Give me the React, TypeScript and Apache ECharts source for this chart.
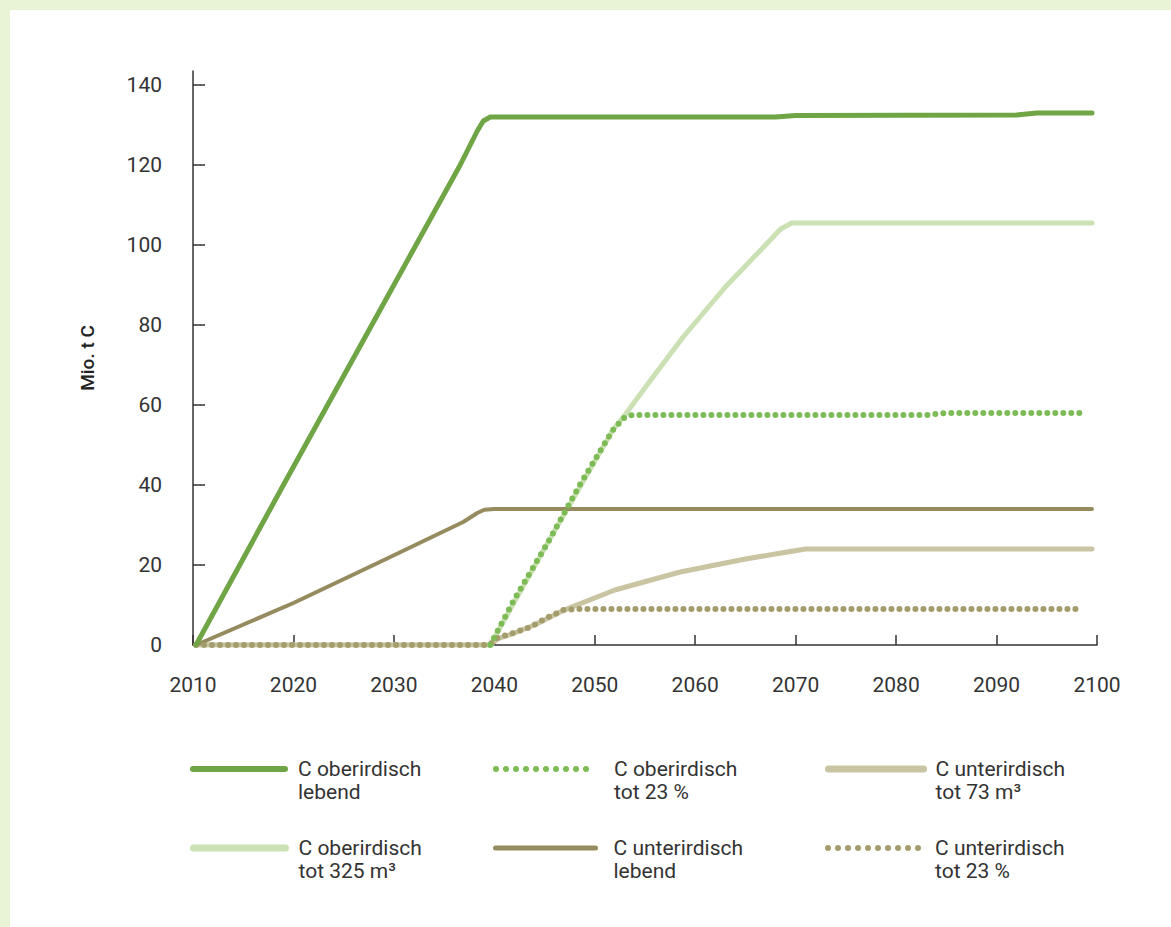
import { useEffect, useRef } from "react";
import * as echarts from "echarts";

const xTicks = [2010, 2020, 2030, 2040, 2050, 2060, 2070, 2080, 2090, 2100];
const yTicks = [0, 20, 40, 60, 80, 100, 120, 140];

const NAME_OL = "C oberirdisch\nlebend";
const NAME_OT23 = "C oberirdisch\ntot 23 %";
const NAME_UT73 = "C unterirdisch\ntot 73 m³";
const NAME_OT325 = "C oberirdisch\ntot 325 m³";
const NAME_UL = "C unterirdisch\nlebend";
const NAME_UT23 = "C unterirdisch\ntot 23 %";

// C oberirdisch lebend
const olYears = [2010.3, 2019, 2027.8, 2036.6, 2038.3, 2038.9, 2039.6, 2068, 2070, 2092, 2094, 2099.5];
const olValues = [0, 40, 80, 120, 128.5, 131, 132, 132, 132.4, 132.5, 133, 133];

// C oberirdisch tot 325 m³
const ot325Years = [2010.3, 2039.6, 2045.3, 2051.8, 2053, 2055.5, 2058.8, 2063, 2067, 2068.5, 2069.6, 2099.5];
const ot325Values = [0, 0, 25.5, 53.75, 57.5, 66, 77, 89.5, 100, 104, 105.5, 105.5];

// C oberirdisch tot 23 %
const ot23Years = [2039.6, 2041.9, 2045.3, 2048.5, 2051.8, 2053, 2053.8, 2083, 2085, 2098.5];
const ot23Values = [0, 11, 25.5, 40, 53.75, 57, 57.5, 57.5, 58, 58];

// C unterirdisch lebend
const ulYears = [2010.3, 2020, 2028.6, 2036.9, 2038.3, 2039, 2040, 2099.5];
const ulValues = [0, 10.5, 20.75, 30.75, 33, 33.8, 34, 34];

// C unterirdisch tot 73 m³
const ut73Years = [2010.3, 2039.6, 2040.3, 2042, 2044, 2047, 2052, 2058.5, 2065, 2069, 2071, 2099.5];
const ut73Values = [0, 0, 1.5, 3, 5, 8.8, 13.75, 18.25, 21.5, 23.2, 24, 24];

// C unterirdisch tot 23 %
const ut23Years = [2010.3, 2039.5, 2040.3, 2041.9, 2043.6, 2045.2, 2046.9, 2048.5, 2098.5];
const ut23Values = [0, 0, 1.75, 3, 4.5, 6.75, 8.75, 9, 9];

const pair = (xs: number[], ys: number[]) => xs.map((x, i) => [x, ys[i]]);

const FONT = "Roboto, 'Liberation Sans', sans-serif";

const C_OL = "#70a546";
const C_OT325 = "#cbe1b4";
const C_OT23 = "#7cbb55";
const C_UL = "#958b5e";
const C_UT73 = "#c9c4a2";
const C_UT23 = "#a49c6c";

export default function App() {
  const ref = useRef<HTMLDivElement>(null);

  useEffect(() => {
    if (!ref.current) return;
    const chart = echarts.init(ref.current, null, { renderer: "svg" });

    const dots = [0, 8];
    const legendDefs = [
      { name: NAME_OL, left: 185, top: 729.5, w: 92, gap: 8, ls: { width: 6, type: "solid" } },
      { name: NAME_OT23, left: 488, top: 729.5, w: 100, gap: 13, ls: { width: 6, type: [0, 10] } },
      { name: NAME_UT73, left: 820, top: 729.5, w: 95, gap: 7, ls: { width: 7, type: "solid" } },
      { name: NAME_OT325, left: 185, top: 808.5, w: 92, gap: 8, ls: { width: 7, type: "solid" } },
      { name: NAME_UL, left: 488, top: 808.5, w: 100, gap: 13, ls: { width: 5, type: "solid" } },
      { name: NAME_UT23, left: 820, top: 808.5, w: 95, gap: 7, ls: { width: 6, type: [0, 10] } },
    ];

    const option: any = {
      animation: false,
      backgroundColor: "transparent",
      textStyle: { fontFamily: FONT },
      grid: { left: 193, right: 74, top: 71, bottom: 282, containLabel: false },
      xAxis: {
        type: "value",
        min: 2010,
        max: 2100,
        interval: 10,
        axisLine: { show: true, lineStyle: { color: "#333", width: 1.5 } },
        axisTick: { show: true, inside: true, length: 10, lineStyle: { color: "#333", width: 1.5 } },
        splitLine: { show: false },
        axisLabel: {
          color: "#333",
          fontSize: 21,
          margin: 29,
          fontFamily: FONT,
          formatter: (v: number) => String(v),
        },
      },
      yAxis: {
        type: "value",
        min: 0,
        max: 143.5,
        name: "Mio. t C",
        nameLocation: "middle",
        nameGap: 96,
        nameRotate: 90,
        nameTextStyle: { color: "#222", fontSize: 19, fontWeight: 500, fontFamily: FONT },
        axisLine: { show: true, lineStyle: { color: "#333", width: 1.5 } },
        axisTick: {
          show: true,
          inside: true,
          length: 12,
          customValues: yTicks,
          lineStyle: { color: "#333", width: 1.5 },
        },
        splitLine: { show: false },
        axisLabel: {
          color: "#333",
          fontSize: 21,
          margin: 31,
          fontFamily: FONT,
          customValues: yTicks,
          formatter: (v: number) => String(v),
        },
      },
      legend: legendDefs.map((d) => ({
        data: [d.name],
        left: d.left,
        top: d.top,
        orient: "horizontal",
        itemWidth: d.w,
        itemHeight: 14,
        itemGap: 0,
        selectedMode: false,
        formatter: (n: string) => "\n" + n,
        itemStyle: { opacity: 0 },
        lineStyle: { width: d.ls.width, type: d.ls.type, cap: "round" },
        textStyle: {
          color: "#333",
          fontSize: 21,
          lineHeight: 23,
          fontFamily: FONT,
          padding: [0, 0, 0, d.gap],
        },
      })),
      series: [
        {
          name: NAME_OT325,
          type: "line",
          data: pair(ot325Years, ot325Values),
          symbol: "none",
          z: 2,
          lineStyle: { color: C_OT325, width: 5, cap: "round", join: "round" },
          itemStyle: { color: C_OT325 },
        },
        {
          name: NAME_UT73,
          type: "line",
          data: pair(ut73Years, ut73Values),
          symbol: "none",
          z: 3,
          lineStyle: { color: C_UT73, width: 5, cap: "round", join: "round" },
          itemStyle: { color: C_UT73 },
        },
        {
          name: NAME_UL,
          type: "line",
          data: pair(ulYears, ulValues),
          symbol: "none",
          z: 4,
          lineStyle: { color: C_UL, width: 4, cap: "round", join: "round" },
          itemStyle: { color: C_UL },
        },
        {
          name: NAME_UT23,
          type: "line",
          data: pair(ut23Years, ut23Values),
          symbol: "none",
          z: 5,
          lineStyle: { color: C_UT23, width: 6, type: dots, cap: "round", join: "round" },
          itemStyle: { color: C_UT23 },
        },
        {
          name: NAME_OT23,
          type: "line",
          data: pair(ot23Years, ot23Values),
          symbol: "none",
          z: 6,
          lineStyle: { color: C_OT23, width: 6, type: dots, cap: "round", join: "round" },
          itemStyle: { color: C_OT23 },
        },
        {
          name: NAME_OL,
          type: "line",
          data: pair(olYears, olValues),
          symbol: "none",
          z: 7,
          lineStyle: { color: C_OL, width: 5, cap: "round", join: "round" },
          itemStyle: { color: C_OL },
        },
      ],
    };

    chart.setOption(option);
    return () => chart.dispose();
  }, []);

  return (
    <div style={{ position: "fixed", left: 0, top: 0, width: 1171, height: 927, background: "#e9f3d6" }}>
      <div style={{ position: "absolute", left: 10, top: 10, width: 1161, height: 917, background: "#ffffff" }} />
      <div ref={ref} style={{ position: "absolute", left: 0, top: 0, width: 1171, height: 927 }} />
    </div>
  );
}
